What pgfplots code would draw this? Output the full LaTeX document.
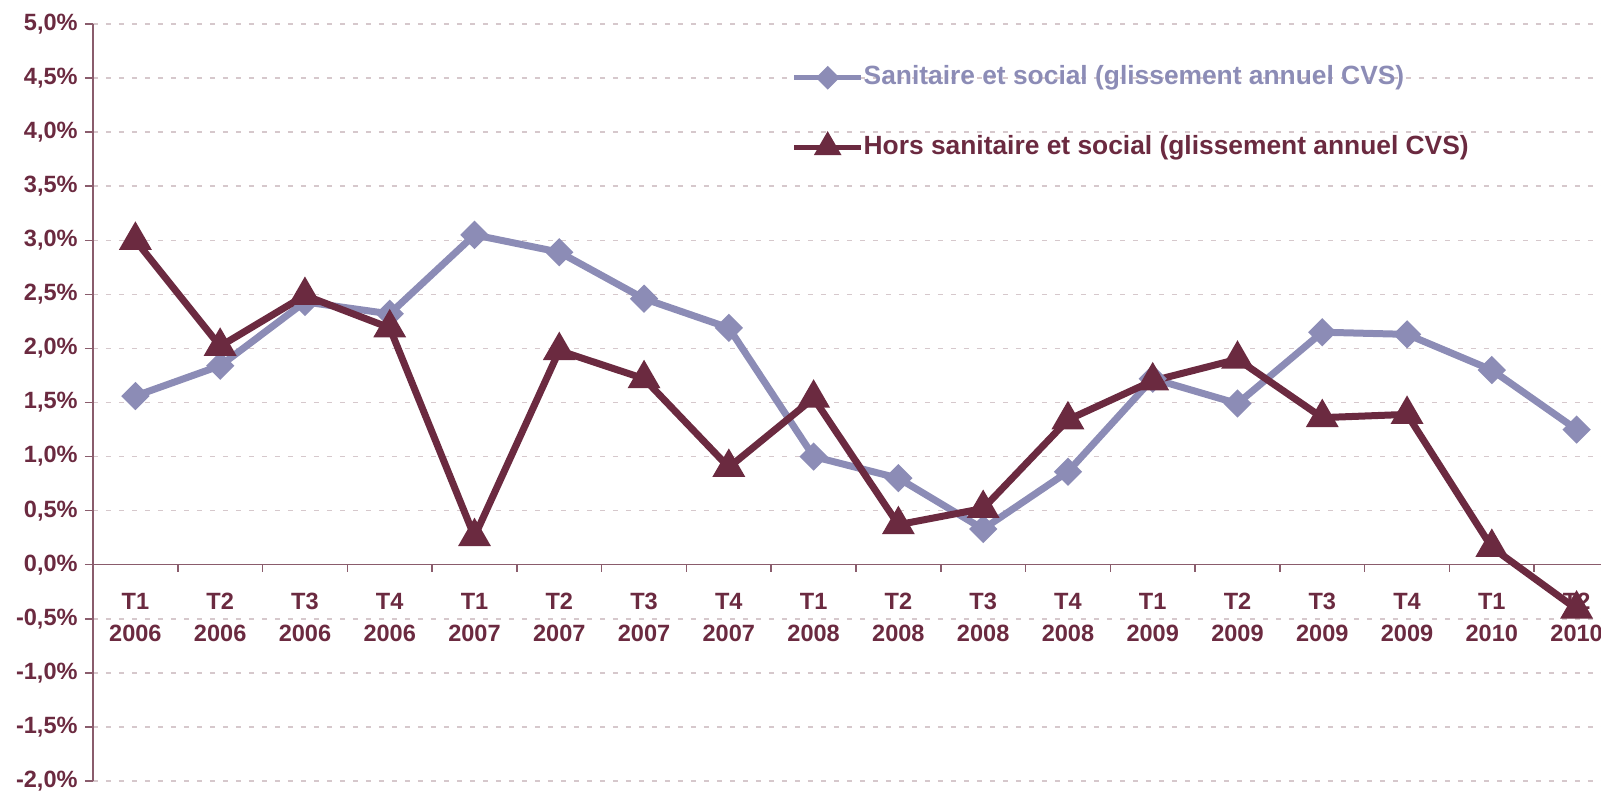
\documentclass[border=0pt]{standalone}
\usepackage{fontspec}
\setmainfont{Liberation Sans}
\usepackage{pgfplots}
\pgfplotsset{compat=1.18}
\definecolor{colSan}{HTML}{8C8CB6}
\definecolor{colHors}{HTML}{6B2A40}
\definecolor{colLab}{HTML}{6B2A40}
\definecolor{colAxis}{HTML}{8A5C6C}
\definecolor{colGrid}{HTML}{D6C8CC}

\begin{document}
\begin{tikzpicture}
\begin{axis}[
  set layers,
  scale only axis,
  width=152.6mm, height=75.7mm,
  xmin=-0.5, xmax=17.5,
  ymin=-2, ymax=5,
  axis x line*=middle,
  axis y line*=left,
  axis line style={draw=colAxis, line width=0.15mm},
  xtick={0,...,17},
  xticklabels={{T1\\2006},{T2\\2006},{T3\\2006},{T4\\2006},
               {T1\\2007},{T2\\2007},{T3\\2007},{T4\\2007},
               {T1\\2008},{T2\\2008},{T3\\2008},{T4\\2008},
               {T1\\2009},{T2\\2009},{T3\\2009},{T4\\2009},
               {T1\\2010},{T2\\2010}},
  major x tick style={draw=none},
  minor xtick={0.5,1.5,...,16.5},
  minor tick length=0.7mm,
  ytick={-2,-1.5,...,5},
  yticklabels={{-2,0\%},{-1,5\%},{-1,0\%},{-0,5\%},{0,0\%},{0,5\%},{1,0\%},
               {1,5\%},{2,0\%},{2,5\%},{3,0\%},{3,5\%},{4,0\%},{4,5\%},{5,0\%}},
  major tick length=0.8mm,
  tick align=outside,
  tick style={draw=colAxis, line width=0.15mm},
  ymajorgrids=true,
  grid style={colGrid, line width=0.15mm, dash pattern=on 0.55mm off 0.75mm},
  every tick label/.append style={font=\bfseries\fontsize{6.7}{9.1}\selectfont, text=colLab},
  xticklabel style={align=center, yshift=-0.8mm},
  yticklabel style={xshift=0.5mm},
  legend cell align=left,
  legend style={at={(axis description cs:0.4574,0.946)}, anchor=north west,
    draw=none, fill=none, inner sep=0pt,
    row sep=4.5mm,
    font=\bfseries\fontsize{7.5}{8.7}\selectfont,
    nodes={inner sep=0pt},
    /tikz/every even column/.append style={column sep=0.5mm}},
  legend image code/.code={
    \draw[#1, mark=none, line width=0.5mm] (0mm,0mm) -- (6.7mm,0mm);
    \draw[#1, /tikz/every mark/.append style={scale=0.75}] plot coordinates {(3.35mm,0mm)};
  },
]
\addplot[color=colSan, line width=0.7mm, mark=square*,
         mark size=0.65mm, mark options={rotate=45, solid, fill=colSan, draw=colSan}]
  coordinates {
    (0,1.56) (1,1.84) (2,2.43) (3,2.32) (4,3.05) (5,2.89)
    (6,2.46) (7,2.19) (8,1.00) (9,0.80) (10,0.33) (11,0.86)
    (12,1.72) (13,1.49) (14,2.15) (15,2.13) (16,1.80) (17,1.25)
  };
\addlegendentry{\textcolor{colSan}{Sanitaire et social (glissement annuel CVS)}}
\addplot[color=colHors, line width=0.7mm, mark=triangle*,
         mark size=1.2mm, mark options={solid, fill=colHors, draw=colHors}]
  coordinates {
    (0,3.00) (1,2.02) (2,2.49) (3,2.19) (4,0.26) (5,1.98)
    (6,1.72) (7,0.90) (8,1.54) (9,0.37) (10,0.52) (11,1.34)
    (12,1.70) (13,1.90) (14,1.36) (15,1.39) (16,0.16) (17,-0.41)
  };
\addlegendentry{\textcolor{colHors}{Hors sanitaire et social (glissement annuel CVS)}}
\end{axis}
\pgfresetboundingbox
\path[use as bounding box] (-9.3mm,-1.0mm) rectangle (150.8mm,78.1mm);
\end{tikzpicture}
\end{document}
